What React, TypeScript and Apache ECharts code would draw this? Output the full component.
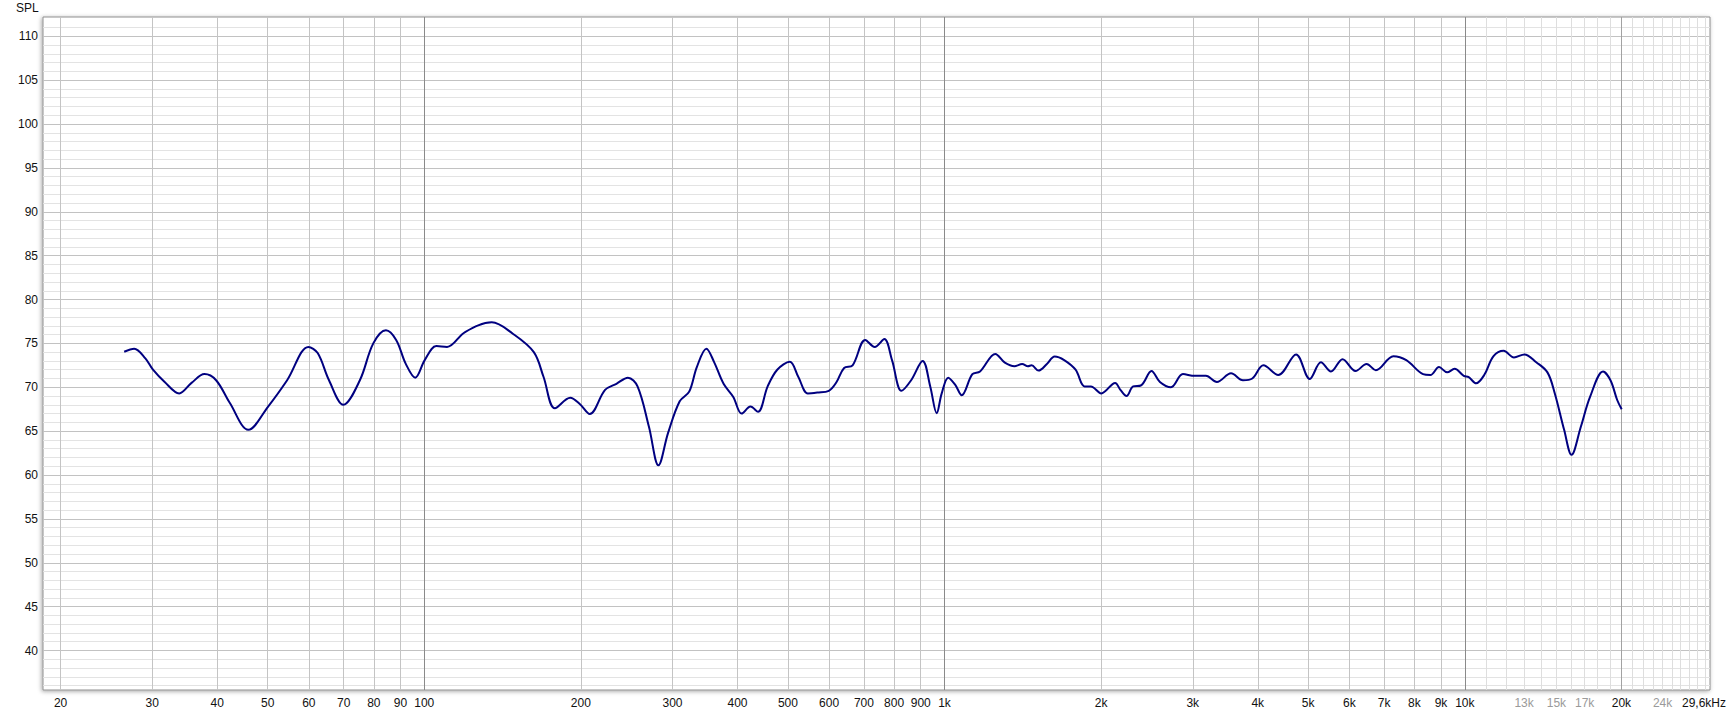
import React, { useEffect, useRef } from "react";
import * as echarts from "echarts";

const freqHz = [
  26.5, 27.7, 29.1, 30.1, 31.7, 33.8, 35.7, 37.8, 39.8, 42.3, 45.9, 50.1, 54.5, 59.9, 62.4, 65.6, 69.9,
  75.2, 79.8, 84.4, 88.3, 92.1, 96.1, 100.2, 105.5, 110.6, 119.8, 134.8, 148, 162.4, 169.5, 178.3,
  190.8, 199, 208, 222.6, 234.1, 246.3, 257, 270.3, 281.9, 294.2, 309.7, 323, 334.1, 348.5, 360.5,
  376.1, 392.6, 407.4, 423.6, 438, 457.1, 476.9, 504.2, 523.4, 546.1, 569.4, 599.2, 620.1, 641.2,
  665.7, 704.1, 734.2, 766.1, 792.6, 826.7, 862.6, 907.7, 938.7, 966, 987.6, 1016.5, 1048, 1079,
  1131, 1170, 1252, 1306, 1363, 1410, 1446, 1470, 1516, 1573, 1628, 1698, 1786, 1858, 1911, 2001,
  2128, 2178, 2238, 2304, 2384, 2499, 2594, 2724, 2872, 3026, 3179, 3338, 3554, 3747, 3904, 4101,
  4380, 4739, 5035, 5290, 5531, 5821, 6165, 6475, 6746, 7290, 7719, 8312, 8587, 8921, 9247, 9558,
  9956, 10174, 10512, 10897, 11356, 11876, 12430, 13018, 13720, 14416, 14894, 15521, 16037, 16712,
  17408, 18442, 19054, 19629, 20023,
];
const splDb = [
  74.05, 74.4, 73.3, 72.0, 70.6, 69.3, 70.5, 71.5, 70.8, 68.2, 65.15, 67.8, 70.8, 74.6, 73.9, 70.8, 68.0,
  70.8, 75.0, 76.5, 75.4, 72.7, 71.1, 73.1, 74.7, 74.6, 76.3, 77.4, 76.1, 74.0, 71.2, 67.6,
  68.8, 68.1, 66.95, 69.7, 70.4, 71.1, 70.1, 65.5, 61.1, 64.8, 68.4, 69.5, 72.3, 74.4, 72.9,
  70.4, 68.9, 67.0, 67.8, 67.2, 70.1, 72.0, 72.9, 71.2, 69.3, 69.4, 69.6, 70.6, 72.2,
  72.5, 75.4, 74.6, 75.5, 73.1, 69.6, 70.8, 73.0, 70.1, 67.05, 69.3, 71.1, 70.3, 69.1,
  71.5, 71.8, 73.8, 72.8, 72.4, 72.65, 72.4, 72.5, 71.9, 72.65, 73.5, 73.1, 72.0, 70.1, 70.1, 69.3,
  70.5, 69.7, 69.0, 70.1, 70.2, 71.85, 70.6, 70.0, 71.5, 71.3, 71.3, 70.6, 71.6, 70.8, 71.0, 72.5,
  71.4, 73.75, 70.95, 72.85, 71.8, 73.2, 71.85, 72.65, 71.95, 73.55, 73.1, 71.5, 71.4, 72.3, 71.7, 72.1,
  71.3, 71.15, 70.45, 71.4, 73.55, 74.15, 73.4, 73.75, 72.85, 71.7, 69.3, 65.15, 62.3, 65.5,
  68.9, 71.8, 70.8, 68.55, 67.5,
];

// Axis ticks and labels
const xTickFreqs = [
  20, 30, 40, 50, 60, 70, 80, 90, 100, 200, 300, 400, 500, 600, 700, 800, 900, 1000,
  2000, 3000, 4000, 5000, 6000, 7000, 8000, 9000, 10000, 13000, 15000, 17000, 20000, 24000, 29600,
];
const xTickLabels = [
  "20", "30", "40", "50", "60", "70", "80", "90", "100", "200", "300", "400", "500", "600", "700",
  "800", "900", "1k", "2k", "3k", "4k", "5k", "6k", "7k", "8k", "9k", "10k", "13k", "15k", "17k",
  "20k", "24k", "29,6kHz",
];
const xDimLabels = ["13k", "15k", "17k", "24k"];
const yTickValues = [40, 45, 50, 55, 60, 65, 70, 75, 80, 85, 90, 95, 100, 105, 110];

const xMinHz = 18.5;
const xMaxHz = 29600;
const yMinDb = 35.5;
const yMaxDb = 112.2;

const vGridFreqs = [
  20, 30, 40, 50, 60, 70, 80, 90, 100, 200, 300, 400, 500, 600, 700, 800, 900, 1000,
  2000, 3000, 4000, 5000, 6000, 7000, 8000, 9000, 10000, 11000, 12000, 13000, 14000, 15000,
  16000, 17000, 18000, 19000, 20000, 21000, 22000, 23000, 24000, 25000, 26000, 27000, 28000, 29000,
];
const hGridDb = [
  36, 37, 38, 39, 40, 41, 42, 43, 44, 45, 46, 47, 48, 49, 50, 51, 52, 53, 54, 55, 56, 57, 58, 59, 60,
  61, 62, 63, 64, 65, 66, 67, 68, 69, 70, 71, 72, 73, 74, 75, 76, 77, 78, 79, 80, 81, 82, 83, 84, 85,
  86, 87, 88, 89, 90, 91, 92, 93, 94, 95, 96, 97, 98, 99, 100, 101, 102, 103, 104, 105, 106, 107,
  108, 109, 110, 111,
];

const FONT = "'Liberation Sans', Arial, sans-serif";

function vColor(f: number): string {
  if (f === 100 || f === 1000 || f === 10000) return "#8a8a8a";
  if (f === 20000) return "#a2a2a2";
  if (f > 10000) return "#dedede";
  return "#c4c4c4";
}

export default function App() {
  const ref = useRef<HTMLDivElement>(null);

  useEffect(() => {
    document.body.style.margin = "0";
    const chart = echarts.init(ref.current!, null, { renderer: "svg" });

    const gridLines: any[] = [];
    hGridDb.forEach((d) => {
      gridLines.push({
        yAxis: d,
        lineStyle: { color: d % 5 === 0 ? "#c2c2c2" : "#e3e3e3", width: 1, type: "solid" },
      });
    });
    vGridFreqs.forEach((f) => {
      gridLines.push({ xAxis: f, lineStyle: { color: vColor(f), width: 1, type: "solid" } });
    });

    const labelFor = (v: number): string => {
      const i = xTickFreqs.findIndex((f) => Math.abs(f - v) / f < 1e-4);
      if (i < 0) return "";
      const t = xTickLabels[i];
      if (xDimLabels.indexOf(t) >= 0) return "{dim|" + t + "}";
      if (i === xTickLabels.length - 1) return "{end|" + t + "}";
      return "{n|" + t + "}";
    };

    chart.setOption({
      animation: false,
      title: {
        text: "SPL",
        left: 16,
        top: 2,
        padding: 0,
        textStyle: { fontSize: 12, fontWeight: "normal", color: "#111", fontFamily: FONT },
      },
      grid: {
        left: 43,
        top: 17,
        right: 22,
        bottom: 25,
        show: true,
        backgroundColor: "#ffffff",
        borderColor: "#8f8f8f",
        borderWidth: 1,
        shadowColor: "rgba(0,0,0,0.35)",
        shadowBlur: 4,
        shadowOffsetX: -1,
        shadowOffsetY: 1,
      },
      xAxis: {
        type: "log",
        logBase: 10,
        min: xMinHz,
        max: xMaxHz,
        axisLine: { show: false },
        axisTick: { show: false },
        splitLine: { show: false },
        axisLabel: {
          customValues: xTickFreqs,
          margin: 7,
          fontFamily: FONT,
          fontSize: 12,
          color: "#111",
          formatter: (v: number) => labelFor(v),
          rich: {
            n: { color: "#111", fontFamily: FONT, fontSize: 12 },
            dim: { color: "#9a9a9a", fontFamily: FONT, fontSize: 12 },
            end: { color: "#111", fontFamily: FONT, fontSize: 12, padding: [0, 12, 0, 0] },
          },
        },
      },
      yAxis: {
        type: "value",
        min: yMinDb,
        max: yMaxDb,
        axisLine: { show: false },
        axisTick: { show: false },
        splitLine: { show: false },
        axisLabel: {
          customValues: yTickValues,
          margin: 5,
          fontFamily: FONT,
          fontSize: 12,
          color: "#111",
        },
      },
      series: [
        {
          type: "line",
          data: [],
          silent: true,
          z: 1,
          markLine: {
            silent: true,
            symbol: ["none", "none"],
            label: { show: false },
            emphasis: { disabled: true },
            animation: false,
            data: gridLines,
          },
        },
        {
          type: "line",
          z: 5,
          data: freqHz.map((f, i) => [f, splDb[i]]),
          showSymbol: false,
          smooth: 0.35,
          lineStyle: { color: "#000080", width: 2 },
          itemStyle: { color: "#000080" },
        },
      ],
    });

    return () => chart.dispose();
  }, []);

  return <div ref={ref} style={{ width: 1732, height: 715 }} />;
}
